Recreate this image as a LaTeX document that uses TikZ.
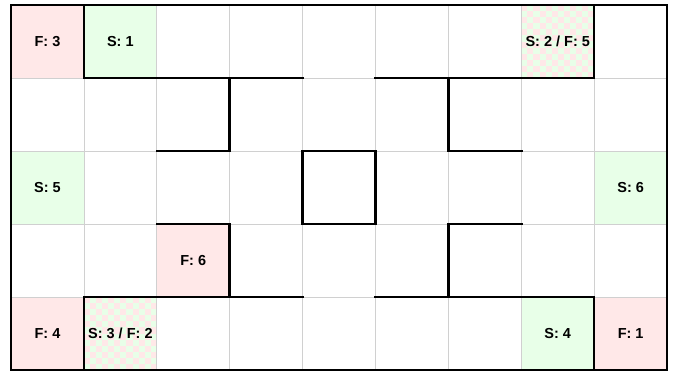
\documentclass[tikz,border=0pt]{standalone}
\usepackage{fontspec}
\setmainfont{Liberation Sans}
\definecolor{fpink}{HTML}{FFE8E8}
\definecolor{sgreen}{HTML}{E8FFE8}
\definecolor{gridgray}{HTML}{D0D0D0}
\begin{document}
\begin{tikzpicture}[x=72.9pt,y=-73pt,
  gridline/.style={draw=gridgray,line width=0.8pt},
  wall/.style={draw=black,line width=2.5pt,line cap=rect,line join=miter},
  lbl/.style={font=\fontsize{14.5}{16}\selectfont\bfseries,inner sep=0pt},
  fcell/.style={fill=fpink},
  scell/.style={fill=sgreen}]
\useasboundingbox (-0.1509,-0.0685) rectangle (9.0809,5.0274);
% fills
\fill[fcell] (0,0) rectangle (1,1);
\fill[scell] (1,0) rectangle (2,1);
\fill[scell] (0,2) rectangle (1,3);
\fill[scell] (8,2) rectangle (9,3);
\fill[fcell] (2,3) rectangle (3,4);
\fill[fcell] (0,4) rectangle (1,5);
\fill[scell] (7,4) rectangle (8,5);
\fill[fcell] (8,4) rectangle (9,5);
% checkered cells
\foreach \ox/\oy in {7/0,1/4}{
  \fill[sgreen] (\ox,\oy) rectangle (\ox+1,\oy+1);
  \foreach \i in {0,...,11}{
    \foreach \j in {0,...,11}{
      \pgfmathtruncatemacro{\pty}{mod(\i+\j,2)}
      \ifnum\pty=0
        \fill[fpink] (\ox+\i/12,\oy+\j/12) rectangle (\ox+\i/12+1/12,\oy+\j/12+1/12);
      \fi
    }
  }
}
% grid
\foreach \i in {1,...,8} \draw[gridline] (\i,0) -- (\i,5);
\foreach \j in {1,...,4} \draw[gridline] (0,\j) -- (9,\j);
% walls
\draw[wall] (0,0) rectangle (9,5);
\draw[wall] (1,0) -- (1,1) -- (4,1);
\draw[wall] (2,2) -- (3,2) -- (3,1);
\draw[wall] (8,0) -- (8,1) -- (5,1);
\draw[wall] (7,2) -- (6,2) -- (6,1);
\draw[wall] (4,2) rectangle (5,3);
\draw[wall] (2,3) -- (3,3) -- (3,4);
\draw[wall] (4,4) -- (1,4) -- (1,5);
\draw[wall] (7,3) -- (6,3) -- (6,4);
\draw[wall] (5,4) -- (8,4) -- (8,5);
% labels
\node[lbl] (f3) at (0.5,0.5) {F: 3};
\node[lbl] (s1) at (1.5,0.5) {S: 1};
\node[lbl] (s2f5) at (7.5,0.5) {S: 2 / F: 5};
\node[lbl] (s5) at (0.5,2.5) {S: 5};
\node[lbl] (s6) at (8.5,2.5) {S: 6};
\node[lbl] (f6) at (2.5,3.5) {F: 6};
\node[lbl] (f4) at (0.5,4.5) {F: 4};
\node[lbl] (s3f2) at (1.5,4.5) {S: 3 / F: 2};
\node[lbl] (s4) at (7.5,4.5) {S: 4};
\node[lbl] (f1) at (8.5,4.5) {F: 1};
\end{tikzpicture}
\end{document}
